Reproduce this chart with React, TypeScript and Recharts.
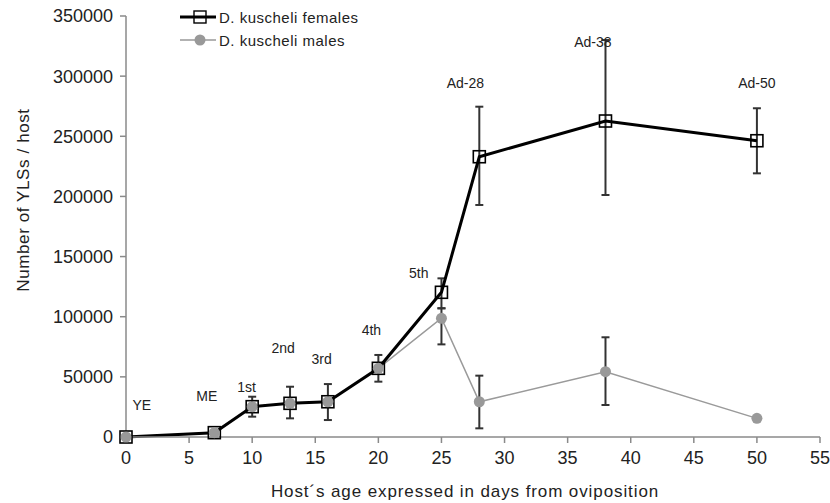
import React from 'react';
import { LineChart, Line, XAxis, YAxis, ErrorBar, ReferenceDot, Customized } from 'recharts';

const ages = [0, 7, 10, 13, 16, 20, 25, 28, 38, 50];
const females = [0, 3600, 25200, 28000, 29300, 57100, 120300, 233000, 262700, 246300];
const males = [0, 3600, 25200, 28000, 29300, 57100, 98700, 29300, 54300, 15500];
// [below, above]
const femaleErr = [[0, 0], [0, 0], [8300, 8300], [12500, 13800], [15200, 14700], [11100, 11100], [13300, 11600], [40100, 41600], [61500, 67300], [27100, 27000]];
const maleErr = [[0, 0], [0, 0], [0, 0], [0, 0], [0, 0], [0, 0], [21700, 8300], [22100, 21700], [27700, 28600], [0, 0]];

const stageNames = ['YE', 'ME', '1st', '2nd', '3rd', '4th', '5th', 'Ad-28', 'Ad-38', 'Ad-50'];
const stageX = [1.25, 6.4, 9.55, 12.45, 15.5, 19.45, 23.2, 26.9, 37.0, 50.0];
const stageY = [26600, 34300, 41800, 74200, 65100, 89000, 136100, 294500, 328600, 294500];

const xTicks = [0, 5, 10, 15, 20, 25, 30, 35, 40, 45, 50, 55];
const yTicks = [0, 50000, 100000, 150000, 200000, 250000, 300000, 350000];

const data = ages.map((age, i) => ({
  age,
  females: females[i],
  males: males[i],
  fErr: femaleErr[i],
  mErr: maleErr[i],
}));

const FONT = '"Liberation Sans", Arial, sans-serif';
const TXT = '#222';
const AXIS = '#8a8a8a';

const Square = (props: any) => {
  const { cx, cy } = props;
  if (cx == null || cy == null) return null;
  return <rect x={cx - 6} y={cy - 6} width={12} height={12} fill="none" stroke="#000" strokeWidth={1.6} />;
};

const LegendBox = () => (
  <svg width={220} height={50} style={{ position: 'absolute', left: 178, top: 7, fontFamily: FONT }}>
    <line x1={2} y1={10} x2={38} y2={10} stroke="#000" strokeWidth={3} />
    <rect x={16} y={4} width={12} height={12} fill="none" stroke="#000" strokeWidth={1.4} />
    <text x={41} y={15.5} fontSize={15} fill={TXT} letterSpacing={0.5}>D. kuscheli females</text>
    <line x1={2} y1={33} x2={38} y2={33} stroke="#999" strokeWidth={1.5} />
    <circle cx={22} cy={33} r={5.5} fill="#999" />
    <text x={41} y={38.5} fontSize={15} fill={TXT} letterSpacing={0.5}>D. kuscheli males</text>
  </svg>
);

const AxisTitles = () => (
  <g fontFamily={FONT} fill={TXT} fontSize={17}>
    <text x={465} y={497} textAnchor="middle" letterSpacing={0.9}>Host´s age expressed in days from oviposition</text>
    <text x={29} y={200} textAnchor="middle" transform="rotate(-90 29 200)" letterSpacing={0.6}>Number of YLSs / host</text>
  </g>
);

export default function App() {
  return (
    <div style={{ position: 'absolute', left: 0, top: 0, width: 830, height: 503, background: '#fff' }}>
      <LineChart width={830} height={503} data={data} margin={{ top: 16, right: 10, bottom: 0, left: 0 }}>
        <XAxis
          dataKey="age"
          type="number"
          domain={[0, 55]}
          ticks={xTicks}
          height={66}
          stroke={AXIS}
          strokeWidth={1.5}
          tickSize={6}
          tick={{ fill: TXT, fontSize: 18, fontFamily: FONT }}
          tickMargin={8}
        />
        <YAxis
          domain={[0, 350000]}
          ticks={yTicks}
          width={126}
          stroke={AXIS}
          strokeWidth={1.5}
          tickSize={6}
          tick={{ fill: TXT, fontSize: 18, fontFamily: FONT }}
          tickMargin={7}
        />
        <Line dataKey="males" stroke="#9a9a9a" strokeWidth={1.5} dot={false} activeDot={false} isAnimationActive={false}>
          <ErrorBar dataKey="mErr" direction="y" width={4} stroke="#333" strokeWidth={2} />
        </Line>
        <Line dataKey="females" stroke="#000" strokeWidth={3} dot={<Square />} activeDot={false} isAnimationActive={false}>
          <ErrorBar dataKey="fErr" direction="y" width={4} stroke="#333" strokeWidth={2} />
        </Line>
        <Line dataKey="males" stroke="none" dot={{ r: 5.5, fill: '#999', stroke: 'none' }} activeDot={false} isAnimationActive={false} />
        {stageNames.map((name, i) => (
          <ReferenceDot
            key={name}
            x={stageX[i]}
            y={stageY[i]}
            r={0}
            stroke="none"
            ifOverflow="visible"
            label={{ value: name, position: 'center', fill: TXT, fontSize: 14, fontFamily: FONT }}
          />
        ))}
        <Customized component={AxisTitles} />
      </LineChart>
      <LegendBox />
    </div>
  );
}
